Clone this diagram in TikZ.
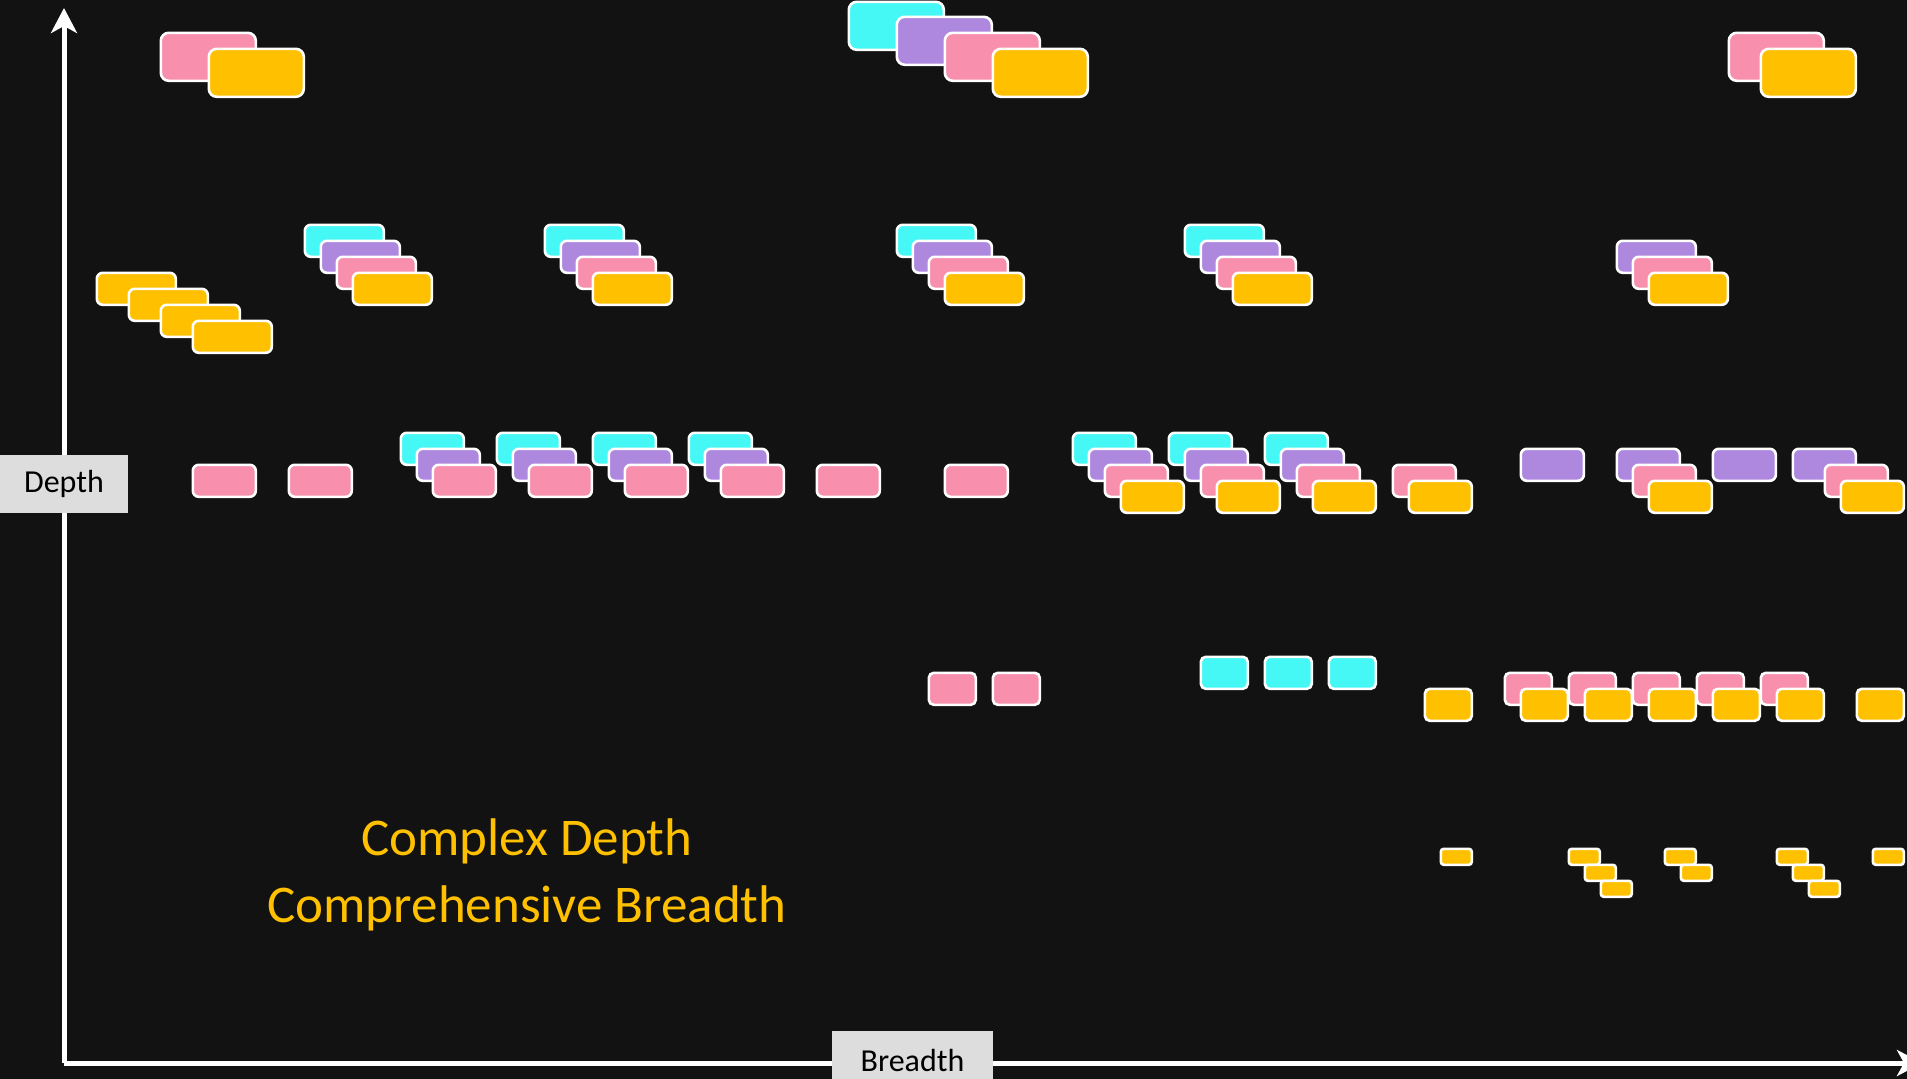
\documentclass[tikz,border=0pt]{standalone}
\usepackage{fontspec}
\setmainfont{Carlito}
\usetikzlibrary{arrows.meta}
\begin{document}
\begin{tikzpicture}[x=1pt, y=-1pt, card/.style={draw=white, line width=2.6pt, anchor=north west, inner sep=0pt, outer sep=0pt, xshift=0.8pt, yshift=-0.8pt}, bigcard/.style={card, minimum width=95pt, minimum height=48pt, rounded corners=8pt}, midcard/.style={card, minimum width=79pt, minimum height=32pt, rounded corners=6pt}, smallcard/.style={card, minimum width=63pt, minimum height=32pt, rounded corners=6pt}, slimcard/.style={card, minimum width=47pt, minimum height=32pt, rounded corners=5pt}, tinycard/.style={card, minimum width=31pt, minimum height=16pt, rounded corners=3pt}, aqua/.style={fill=bdAqua}, lilac/.style={fill=bdLilac}, rose/.style={fill=bdRose}, gold/.style={fill=bdGold}, axis/.style={draw=white, line width=5pt, -{Stealth[length=25pt, width=26pt, inset=7pt]}}, axislabel/.style={fill=bdPaper, text=black, font=\fontsize{32}{38}\selectfont, inner sep=0pt, minimum height=58pt}, motto/.style={text=bdGold, font=\fontsize{53}{67}\selectfont, align=center, inner sep=0pt}]
\definecolor{bdInk}{RGB}{18,18,18}
\definecolor{bdPaper}{RGB}{221,221,221}
\definecolor{bdAqua}{RGB}{70,248,245}
\definecolor{bdLilac}{RGB}{174,136,222}
\definecolor{bdRose}{RGB}{247,143,173}
\definecolor{bdGold}{RGB}{255,192,0}
\fill[bdInk, use as bounding box] (0,0) rectangle (1907,1079);
\clip (0,0) rectangle (1907,1079);
\coordinate (origin) at (64,1063);
\coordinate (ytop) at (64,8);
\coordinate (xend) at (1922,1063);
\draw[axis] (origin) -- (ytop);
\draw[axis] (origin) -- (xend);
\node[axislabel, minimum width=128pt] (depth) at (64,484) {Depth};
\node[axislabel, minimum width=161pt] (breadth) at (912.5,1060) {Breadth};
\node[bigcard, rose] (a1) at (160,32) {};
\node[bigcard, gold] (a2) at (208,48) {};
\node[bigcard, aqua] (b1) at (848,1) {};
\node[bigcard, lilac] (b2) at (896,16) {};
\node[bigcard, rose] (b3) at (944,32) {};
\node[bigcard, gold] (b4) at (992,48) {};
\node[bigcard, rose] (c1) at (1728,32) {};
\node[bigcard, gold] (c2) at (1760,48) {};
\node[midcard, gold] (d1) at (96,272) {};
\node[midcard, gold] (d2) at (128,288) {};
\node[midcard, gold] (d3) at (160,304) {};
\node[midcard, gold] (d4) at (192,320) {};
\node[midcard, aqua] (e1) at (304,224) {};
\node[midcard, lilac] (e2) at (320,240) {};
\node[midcard, rose] (e3) at (336,256) {};
\node[midcard, gold] (e4) at (352,272) {};
\node[midcard, aqua] (f1) at (544,224) {};
\node[midcard, lilac] (f2) at (560,240) {};
\node[midcard, rose] (f3) at (576,256) {};
\node[midcard, gold] (f4) at (592,272) {};
\node[midcard, aqua] (g1) at (896,224) {};
\node[midcard, lilac] (g2) at (912,240) {};
\node[midcard, rose] (g3) at (928,256) {};
\node[midcard, gold] (g4) at (944,272) {};
\node[midcard, aqua] (h1) at (1184,224) {};
\node[midcard, lilac] (h2) at (1200,240) {};
\node[midcard, rose] (h3) at (1216,256) {};
\node[midcard, gold] (h4) at (1232,272) {};
\node[midcard, lilac] (i1) at (1616,240) {};
\node[midcard, rose] (i2) at (1632,256) {};
\node[midcard, gold] (i3) at (1648,272) {};
\node[smallcard, rose] (j1) at (192,464) {};
\node[smallcard, rose] (j2) at (288,464) {};
\node[smallcard, aqua] (k1) at (400,432) {};
\node[smallcard, lilac] (k2) at (416,448) {};
\node[smallcard, rose] (k3) at (432,464) {};
\node[smallcard, aqua] (l1) at (496,432) {};
\node[smallcard, lilac] (l2) at (512,448) {};
\node[smallcard, rose] (l3) at (528,464) {};
\node[smallcard, aqua] (m1) at (592,432) {};
\node[smallcard, lilac] (m2) at (608,448) {};
\node[smallcard, rose] (m3) at (624,464) {};
\node[smallcard, aqua] (n1) at (688,432) {};
\node[smallcard, lilac] (n2) at (704,448) {};
\node[smallcard, rose] (n3) at (720,464) {};
\node[smallcard, rose] (o1) at (816,464) {};
\node[smallcard, rose] (o2) at (944,464) {};
\node[smallcard, aqua] (p1) at (1072,432) {};
\node[smallcard, lilac] (p2) at (1088,448) {};
\node[smallcard, rose] (p3) at (1104,464) {};
\node[smallcard, gold] (p4) at (1120,480) {};
\node[smallcard, aqua] (q1) at (1168,432) {};
\node[smallcard, lilac] (q2) at (1184,448) {};
\node[smallcard, rose] (q3) at (1200,464) {};
\node[smallcard, gold] (q4) at (1216,480) {};
\node[smallcard, aqua] (r1) at (1264,432) {};
\node[smallcard, lilac] (r2) at (1280,448) {};
\node[smallcard, rose] (r3) at (1296,464) {};
\node[smallcard, gold] (r4) at (1312,480) {};
\node[smallcard, rose] (s1) at (1392,464) {};
\node[smallcard, gold] (s2) at (1408,480) {};
\node[smallcard, lilac] (t1) at (1520,448) {};
\node[smallcard, lilac] (u1) at (1616,448) {};
\node[smallcard, rose] (u2) at (1632,464) {};
\node[smallcard, gold] (u3) at (1648,480) {};
\node[smallcard, lilac] (v1) at (1712,448) {};
\node[smallcard, lilac] (w1) at (1792,448) {};
\node[smallcard, rose] (w2) at (1824,464) {};
\node[smallcard, gold] (w3) at (1840,480) {};
\node[slimcard, rose] (x1) at (928,672) {};
\node[slimcard, rose] (x2) at (992,672) {};
\node[slimcard, aqua] (y1) at (1200,656) {};
\node[slimcard, aqua] (y2) at (1264,656) {};
\node[slimcard, aqua] (y3) at (1328,656) {};
\node[slimcard, gold] (z1) at (1424,688) {};
\node[slimcard, rose] (z2) at (1504,672) {};
\node[slimcard, gold] (z3) at (1520,688) {};
\node[slimcard, rose] (z4) at (1568,672) {};
\node[slimcard, gold] (z5) at (1584,688) {};
\node[slimcard, rose] (z6) at (1632,672) {};
\node[slimcard, gold] (z7) at (1648,688) {};
\node[slimcard, rose] (z8) at (1696,672) {};
\node[slimcard, gold] (z9) at (1712,688) {};
\node[slimcard, rose] (z10) at (1760,672) {};
\node[slimcard, gold] (z11) at (1776,688) {};
\node[slimcard, gold] (z12) at (1856,688) {};
\node[tinycard, gold] (tt1) at (1440,848) {};
\node[tinycard, gold] (tt2) at (1568,848) {};
\node[tinycard, gold] (tt3) at (1584,864) {};
\node[tinycard, gold] (tt4) at (1600,880) {};
\node[tinycard, gold] (tt5) at (1664,848) {};
\node[tinycard, gold] (tt6) at (1680,864) {};
\node[tinycard, gold] (tt7) at (1776,848) {};
\node[tinycard, gold] (tt8) at (1792,864) {};
\node[tinycard, gold] (tt9) at (1808,880) {};
\node[tinycard, gold] (tt10) at (1872,848) {};
\node[motto] (motto) at (527,875) {Complex Depth\\Comprehensive Breadth};
\end{tikzpicture}
\end{document}
